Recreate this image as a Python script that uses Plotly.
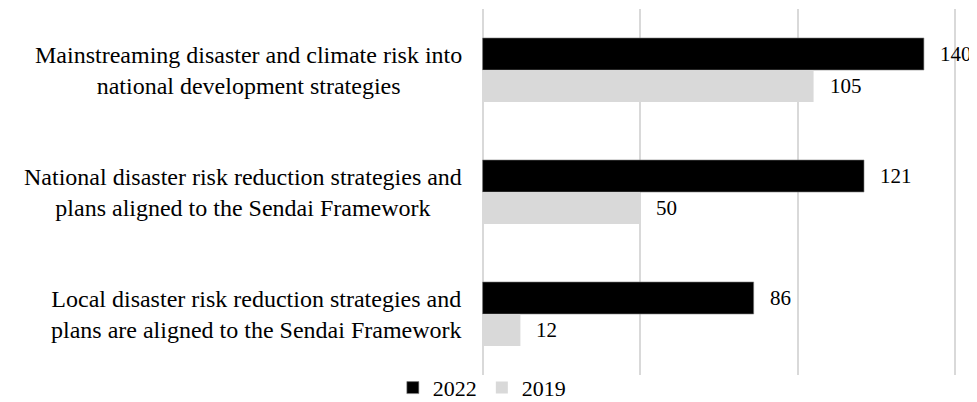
import plotly.graph_objects as go

categories = [
    "Mainstreaming disaster and climate risk into<br>national development strategies",
    "National disaster risk reduction strategies and<br>plans aligned to the Sendai Framework",
    "Local disaster risk reduction strategies and<br>plans are aligned to the Sendai Framework",
]
cat_keys = ["Mainstreaming", "National", "Local"]
values_2022 = [140, 121, 86]
values_2019 = [105, 50, 12]
series_names = ["2022", "2019"]
x_ticks = [0, 50, 100, 150]

FONT = "Liberation Serif, Times New Roman, serif"
FS = 21
FS_CAT = 24
FS_LEG = 22

fig = go.Figure()
fig.add_trace(go.Bar(y=cat_keys, x=values_2022, orientation="h", name=series_names[0],
                     marker=dict(color="#000000", line=dict(color="#7f7f7f", width=0.6))))
fig.add_trace(go.Bar(y=cat_keys, x=values_2019, orientation="h", name=series_names[1],
                     marker=dict(color="#d9d9d9", line=dict(width=0))))

annotations = []
for i, key in enumerate(cat_keys):
    annotations.append(dict(x=0, xref="x", y=key, yref="y", text=categories[i],
                            xanchor="right", yanchor="middle", align="center", xshift=-19,
                            showarrow=False, font=dict(family=FONT, size=FS_CAT, color="#000")))

# value labels
for vals, off in ((values_2022, -0.133), (values_2019, 0.133)):
    for i, v in enumerate(vals):
        annotations.append(dict(x=v, xref="x", y=i + off, yref="y", text=str(v),
                                xanchor="left", yanchor="middle", xshift=14, showarrow=False,
                                font=dict(family=FONT, size=FS, color="#000")))

fig.update_layout(
    width=969, height=394,
    margin=dict(l=473, r=20, t=1, b=27, autoexpand=False),
    paper_bgcolor="white", plot_bgcolor="white",
    barmode="group", bargap=0.475, bargroupgap=0,
    font=dict(family=FONT, size=FS, color="#000"),
    showlegend=True,
    legend=dict(orientation="h", xref="container", yref="container",
                x=0.489, xanchor="center", y=0.036, yanchor="middle",
                font=dict(family=FONT, size=FS_LEG, color="#000"), itemwidth=30,
                traceorder="normal", bgcolor="rgba(0,0,0,0)"),
    xaxis=dict(range=[-0.5, 150.5], tickvals=x_ticks, showticklabels=False, showgrid=True,
               gridcolor="#d9d9d9", gridwidth=1.5, zeroline=False, showline=False, ticks=""),
    yaxis=dict(autorange="reversed", showticklabels=False, showgrid=False, zeroline=False,
               showline=False, ticks=""),
    annotations=annotations,
)

fig.write_html("out.html")
